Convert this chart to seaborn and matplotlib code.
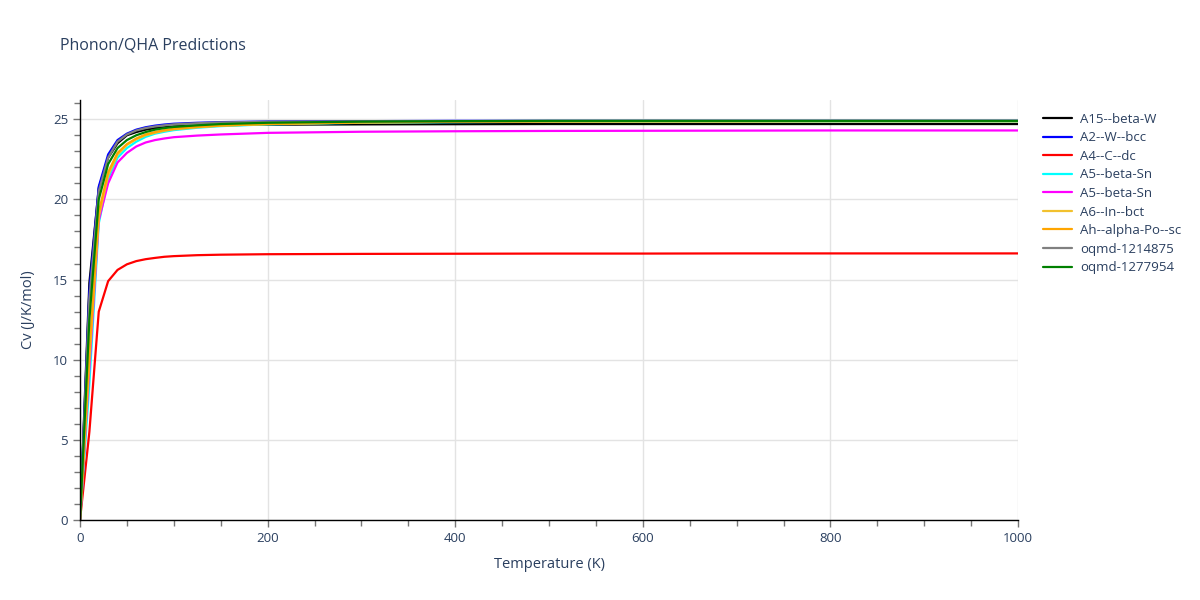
import numpy as np
import pandas as pd
import matplotlib
matplotlib.use("Agg")
import matplotlib.pyplot as plt
import seaborn as sns
from matplotlib.ticker import MultipleLocator

# Temperature grid (K)
temps = [0, 10, 20, 30, 40, 50, 60, 70, 80, 90, 100, 125, 150, 200,
         300, 400, 500, 600, 700, 800, 900, 1000]

# Heat capacity Cv (J/K/mol) per structure
cv_a15_beta_w = [0, 14.8, 20.7, 22.6, 23.5, 24.0, 24.2, 24.35, 24.45, 24.5, 24.55,
                 24.6, 24.63, 24.66, 24.68, 24.69, 24.7, 24.7, 24.7, 24.7, 24.7, 24.7]
cv_a2_w_bcc = [0, 14.3, 20.8, 22.8, 23.7, 24.1, 24.35, 24.5, 24.6, 24.67, 24.72,
               24.78, 24.82, 24.86, 24.88, 24.9, 24.9, 24.9, 24.9, 24.9, 24.9, 24.9]
cv_a4_c_dc = [0, 5.5, 13.0, 14.9, 15.6, 15.95, 16.15, 16.27, 16.35, 16.42, 16.46,
              16.52, 16.55, 16.58, 16.6, 16.61, 16.62, 16.62, 16.63, 16.63, 16.63, 16.63]
cv_a5_beta_sn_1 = [0, 8.5, 18.5, 21.3, 22.6, 23.2, 23.6, 23.9, 24.1, 24.22, 24.32,
                   24.47, 24.57, 24.68, 24.78, 24.82, 24.84, 24.85, 24.85, 24.86, 24.86, 24.86]
cv_a5_beta_sn_2 = [0, 9.5, 18.7, 21.0, 22.3, 22.9, 23.3, 23.55, 23.7, 23.8, 23.88,
                   23.98, 24.05, 24.15, 24.22, 24.25, 24.27, 24.28, 24.29, 24.3, 24.3, 24.3]
cv_a6_in_bct = [0, 10.0, 18.9, 21.5, 22.8, 23.4, 23.75, 24.0, 24.15, 24.28, 24.37,
                24.5, 24.6, 24.7, 24.8, 24.84, 24.86, 24.87, 24.87, 24.88, 24.88, 24.88]
cv_ah_alpha_po_sc = [0, 10.5, 19.2, 21.7, 22.9, 23.45, 23.8, 24.05, 24.2, 24.32, 24.4,
                     24.52, 24.6, 24.7, 24.8, 24.84, 24.86, 24.87, 24.87, 24.88, 24.88, 24.88]
cv_oqmd_1214875 = [0, 13.8, 20.5, 22.6, 23.6, 24.05, 24.3, 24.45, 24.55, 24.62, 24.68,
                   24.75, 24.8, 24.84, 24.87, 24.88, 24.89, 24.9, 24.9, 24.9, 24.9, 24.9]
cv_oqmd_1277954 = [0, 12.5, 20.0, 22.2, 23.2, 23.7, 24.0, 24.2, 24.35, 24.45, 24.52,
                   24.62, 24.7, 24.78, 24.85, 24.88, 24.9, 24.9, 24.9, 24.9, 24.9, 24.9]

labels = ["A15--beta-W", "A2--W--bcc", "A4--C--dc", "A5--beta-Sn", "A5--beta-Sn",
          "A6--In--bct", "Ah--alpha-Po--sc", "oqmd-1214875", "oqmd-1277954"]
series = [cv_a15_beta_w, cv_a2_w_bcc, cv_a4_c_dc, cv_a5_beta_sn_1, cv_a5_beta_sn_2,
          cv_a6_in_bct, cv_ah_alpha_po_sc, cv_oqmd_1214875, cv_oqmd_1277954]
colors = ["black", "blue", "red", "cyan", "magenta", "#f2c12e", "orange", "grey", "green"]

sns.set_style("white")
plt.rcParams['font.family'] = ['Open Sans', 'DejaVu Sans']
text_color = "#2a3f5f"

fig = plt.figure(figsize=(12, 6), dpi=100)
ax = fig.add_axes([80 / 1200, 1 - 520 / 600, (1018 - 80) / 1200, (520 - 100) / 600])

for lab, vals, col in zip(labels, series, colors):
    df = pd.DataFrame({"T": temps, "Cv": vals})
    sns.lineplot(data=df, x="T", y="Cv", color=col, linewidth=1.6, label=lab, ax=ax)

ax.set_xlim(0, 1000)
ax.set_ylim(0, 26.2)
ax.xaxis.set_major_locator(MultipleLocator(200))
ax.xaxis.set_minor_locator(MultipleLocator(50))
ax.yaxis.set_major_locator(MultipleLocator(5))
ax.yaxis.set_minor_locator(MultipleLocator(1))
ax.grid(True, which="major", color="#e3e3e3", linewidth=1)
ax.set_axisbelow(True)

for side in ["top", "right"]:
    ax.spines[side].set_visible(False)
for side in ["left", "bottom"]:
    ax.spines[side].set_color("black")
    ax.spines[side].set_linewidth(1)

ax.tick_params(which="both", direction="out", bottom=True, left=True, color="#777777",
               labelcolor=text_color, labelsize=9.5)
ax.tick_params(which="major", length=5, width=1)
ax.tick_params(which="minor", length=4, width=1)

ax.set_xlabel("Temperature (K)", fontsize=10.5, color=text_color, labelpad=9)
ax.set_ylabel("Cv (J/K/mol)", fontsize=10.5, color=text_color, labelpad=12)

fig.text(60 / 1200, 1 - 45 / 600, "Phonon/QHA Predictions", fontsize=11.5,
         color=text_color, va="center", ha="left")

leg = ax.legend(loc="upper left", bbox_to_anchor=(1.021, 0.982), frameon=False,
                fontsize=9.5, handlelength=2.2, handletextpad=0.6, labelspacing=0.42,
                borderaxespad=0)
for t in leg.get_texts():
    t.set_color(text_color)

fig.savefig("out.png", dpi=100)
